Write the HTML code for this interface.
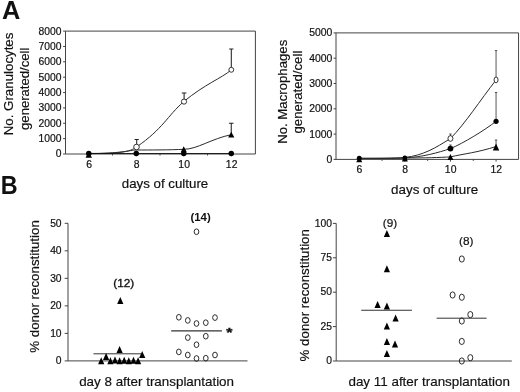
<!DOCTYPE html>
<html><head><meta charset="utf-8"><title>Figure</title>
<style>
html,body{margin:0;padding:0;background:#fff;}
body{width:520px;height:392px;overflow:hidden;font-family:"Liberation Sans",sans-serif;}
svg{display:block;will-change:transform;}
</style></head><body>
<svg width="520" height="392" viewBox="0 0 520 392" font-family="'Liberation Sans', sans-serif" fill="#111">
<text x="1.9" y="18.9" font-size="25.3" text-anchor="start" font-weight="bold">A</text>
<text transform="translate(0.7 193.9) scale(0.925 1)" font-size="25.3" font-weight="bold">B</text>
<path d="M65.5 31.1H255.4V154.0H65.5Z" stroke="#444" stroke-width="1" fill="none"/>
<path d="M63.10 154.00L65.50 154.00" stroke="#444" stroke-width="1" fill="none"/>
<text x="61.4" y="157.4" font-size="10.3" text-anchor="end" stroke="#111" stroke-width="0.2">0</text>
<path d="M63.10 138.64L65.50 138.64" stroke="#444" stroke-width="1" fill="none"/>
<text x="61.4" y="142.04" font-size="10.3" text-anchor="end" stroke="#111" stroke-width="0.2">1000</text>
<path d="M63.10 123.28L65.50 123.28" stroke="#444" stroke-width="1" fill="none"/>
<text x="61.4" y="126.68" font-size="10.3" text-anchor="end" stroke="#111" stroke-width="0.2">2000</text>
<path d="M63.10 107.91L65.50 107.91" stroke="#444" stroke-width="1" fill="none"/>
<text x="61.4" y="111.31" font-size="10.3" text-anchor="end" stroke="#111" stroke-width="0.2">3000</text>
<path d="M63.10 92.55L65.50 92.55" stroke="#444" stroke-width="1" fill="none"/>
<text x="61.4" y="95.95" font-size="10.3" text-anchor="end" stroke="#111" stroke-width="0.2">4000</text>
<path d="M63.10 77.19L65.50 77.19" stroke="#444" stroke-width="1" fill="none"/>
<text x="61.4" y="80.59" font-size="10.3" text-anchor="end" stroke="#111" stroke-width="0.2">5000</text>
<path d="M63.10 61.83L65.50 61.83" stroke="#444" stroke-width="1" fill="none"/>
<text x="61.4" y="65.23" font-size="10.3" text-anchor="end" stroke="#111" stroke-width="0.2">6000</text>
<path d="M63.10 46.46L65.50 46.46" stroke="#444" stroke-width="1" fill="none"/>
<text x="61.4" y="49.86" font-size="10.3" text-anchor="end" stroke="#111" stroke-width="0.2">7000</text>
<path d="M63.10 31.10L65.50 31.10" stroke="#444" stroke-width="1" fill="none"/>
<text x="61.4" y="34.5" font-size="10.3" text-anchor="end" stroke="#111" stroke-width="0.2">8000</text>
<path d="M88.75 154.00L88.75 156.20" stroke="#444" stroke-width="1" fill="none"/>
<text x="89.15" y="167.6" font-size="10.4" text-anchor="middle" stroke="#111" stroke-width="0.2">6</text>
<path d="M136.25 154.00L136.25 156.20" stroke="#444" stroke-width="1" fill="none"/>
<text x="136.65" y="167.6" font-size="10.4" text-anchor="middle" stroke="#111" stroke-width="0.2">8</text>
<path d="M183.75 154.00L183.75 156.20" stroke="#444" stroke-width="1" fill="none"/>
<text x="184.15" y="167.6" font-size="10.4" text-anchor="middle" stroke="#111" stroke-width="0.2">10</text>
<path d="M231.25 154.00L231.25 156.20" stroke="#444" stroke-width="1" fill="none"/>
<text x="231.65" y="167.6" font-size="10.4" text-anchor="middle" stroke="#111" stroke-width="0.2">12</text>
<path d="M112.50 154.00L112.50 155.50" stroke="#444" stroke-width="1" fill="none"/>
<path d="M160.00 154.00L160.00 155.50" stroke="#444" stroke-width="1" fill="none"/>
<path d="M207.50 154.00L207.50 155.50" stroke="#444" stroke-width="1" fill="none"/>
<text x="165" y="188.3" font-size="13.3" text-anchor="middle" stroke="#111" stroke-width="0.18">days of culture</text>
<text x="13" y="83.95" font-size="13.3" text-anchor="middle" stroke="#111" stroke-width="0.18" transform="rotate(-90 13 83.95)">No. Granulocytes</text>
<text x="29.2" y="88.8" font-size="13.1" text-anchor="middle" stroke="#111" stroke-width="0.18" transform="rotate(-90 29.2 88.8)">generated/cell</text>
<path d="M88.75 153.4 C120 153.6 130 152 136.50 147.0 C163.3 128.5 166.9 116.4 183.85 101.5 C205.1 84.0 221.4 78.3 231.30 69.9" stroke="#2a2a2a" stroke-width="1" fill="none"/>
<path d="M88.75 153.6 C120 153.6 130 150.2 136.25 150 C150 150 170 150 183.75 149.3 C197.2 149.3 211.6 138.6 231.25 134.7" stroke="#2a2a2a" stroke-width="1" fill="none"/>
<path d="M88.75 153.50L231.25 153.50" stroke="#111" stroke-width="0.9" fill="none"/>
<path d="M136.70 147.00V139.50M134.60 139.50H138.80" stroke="#222" stroke-width="1.05" fill="none"/>
<path d="M184.10 101.25V93.00M181.80 93.00H186.40" stroke="#222" stroke-width="1.05" fill="none"/>
<path d="M231.30 70.00V49.00M229.20 49.00H233.40" stroke="#222" stroke-width="1.05" fill="none"/>
<path d="M231.25 134.00V123.30M228.95 123.30H233.55" stroke="#222" stroke-width="1.05" fill="none"/>
<path d="M85.55 157.70L91.95 157.70L88.75 151.30Z" fill="#000"/>
<path d="M180.75 152.30L186.75 152.30L183.75 146.30Z" fill="#000"/>
<path d="M228.15 137.60L234.35 137.60L231.25 131.80Z" fill="#000"/>
<circle cx="88.75" cy="153.40" r="2.75" fill="#000"/>
<circle cx="136.25" cy="153.40" r="2.75" fill="#000"/>
<circle cx="183.75" cy="153.40" r="2.75" fill="#000"/>
<circle cx="231.25" cy="153.40" r="2.75" fill="#000"/>
<ellipse cx="136.50" cy="147.00" rx="2.8" ry="2.8" fill="#fff" stroke="#222" stroke-width="0.9"/>
<ellipse cx="184.00" cy="101.60" rx="2.6" ry="2.6" fill="#fff" stroke="#222" stroke-width="0.9"/>
<ellipse cx="231.30" cy="69.80" rx="2.45" ry="2.45" fill="#fff" stroke="#222" stroke-width="0.9"/>
<path d="M336.0 32.9H518.55V159.4H336.0Z" stroke="#444" stroke-width="1" fill="none"/>
<path d="M333.60 159.40L336.00 159.40" stroke="#444" stroke-width="1" fill="none"/>
<text x="332.3" y="162.8" font-size="10.4" text-anchor="end" stroke="#111" stroke-width="0.2">0</text>
<path d="M333.60 134.10L336.00 134.10" stroke="#444" stroke-width="1" fill="none"/>
<text x="332.3" y="137.5" font-size="10.4" text-anchor="end" stroke="#111" stroke-width="0.2">1000</text>
<path d="M333.60 108.80L336.00 108.80" stroke="#444" stroke-width="1" fill="none"/>
<text x="332.3" y="112.2" font-size="10.4" text-anchor="end" stroke="#111" stroke-width="0.2">2000</text>
<path d="M333.60 83.50L336.00 83.50" stroke="#444" stroke-width="1" fill="none"/>
<text x="332.3" y="86.9" font-size="10.4" text-anchor="end" stroke="#111" stroke-width="0.2">3000</text>
<path d="M333.60 58.20L336.00 58.20" stroke="#444" stroke-width="1" fill="none"/>
<text x="332.3" y="61.6" font-size="10.4" text-anchor="end" stroke="#111" stroke-width="0.2">4000</text>
<path d="M333.60 32.90L336.00 32.90" stroke="#444" stroke-width="1" fill="none"/>
<text x="332.3" y="36.3" font-size="10.4" text-anchor="end" stroke="#111" stroke-width="0.2">5000</text>
<path d="M359.25 159.40L359.25 161.60" stroke="#444" stroke-width="1" fill="none"/>
<text x="359.45" y="172.8" font-size="10.4" text-anchor="middle" stroke="#111" stroke-width="0.2">6</text>
<path d="M404.85 159.40L404.85 161.60" stroke="#444" stroke-width="1" fill="none"/>
<text x="405.05" y="172.8" font-size="10.4" text-anchor="middle" stroke="#111" stroke-width="0.2">8</text>
<path d="M450.45 159.40L450.45 161.60" stroke="#444" stroke-width="1" fill="none"/>
<text x="450.65" y="172.8" font-size="10.4" text-anchor="middle" stroke="#111" stroke-width="0.2">10</text>
<path d="M496.05 159.40L496.05 161.60" stroke="#444" stroke-width="1" fill="none"/>
<text x="496.25" y="172.8" font-size="10.4" text-anchor="middle" stroke="#111" stroke-width="0.2">12</text>
<path d="M382.05 159.40L382.05 160.90" stroke="#444" stroke-width="1" fill="none"/>
<path d="M427.65 159.40L427.65 160.90" stroke="#444" stroke-width="1" fill="none"/>
<path d="M473.25 159.40L473.25 160.90" stroke="#444" stroke-width="1" fill="none"/>
<text x="434.6" y="193.7" font-size="13.4" text-anchor="middle" stroke="#111" stroke-width="0.18">days of culture</text>
<text x="286.8" y="91.8" font-size="13.2" text-anchor="middle" stroke="#111" stroke-width="0.18" transform="rotate(-90 286.8 91.8)">No. Macrophages</text>
<text x="302.3" y="92.1" font-size="13.2" text-anchor="middle" stroke="#111" stroke-width="0.18" transform="rotate(-90 302.3 92.1)">generated/cell</text>
<path d="M359.25 158.3 C385 158.3 398 158.3 404.85 157.4 C423 155.6 435.5 147.9 450.45 138.5 C465 123.9 480.4 99.9 496.05 80.0" stroke="#2a2a2a" stroke-width="1" fill="none"/>
<path d="M359.25 158.3 C385 158.4 398 158.4 404.85 157.9 C423 157 438 152.6 450.45 148.6 C463.4 143.2 484.7 130.2 496.05 121.3" stroke="#2a2a2a" stroke-width="1" fill="none"/>
<path d="M359.25 158.5 C380 158.5 395 158.3 404.85 158 C425 158 440 157.5 450.45 156.9 C464.8 153.6 477 152.6 496.05 146.5" stroke="#2a2a2a" stroke-width="1" fill="none"/>
<path d="M496.05 79.50V50.60M494.85 50.60H497.25" stroke="#3a3a3a" stroke-width="0.85" fill="none"/>
<path d="M496.05 121.20V92.50M494.85 92.50H497.25" stroke="#3a3a3a" stroke-width="0.85" fill="none"/>
<path d="M496.05 147.00V140.00M494.85 140.00H497.25" stroke="#3a3a3a" stroke-width="0.85" fill="none"/>
<path d="M450.45 138.20V134.00M449.25 134.00H451.65" stroke="#3a3a3a" stroke-width="0.85" fill="none"/>
<path d="M450.45 149.00V145.00M449.25 145.00H451.65" stroke="#3a3a3a" stroke-width="0.85" fill="none"/>
<path d="M356.25 162.20L362.25 162.20L359.25 156.20Z" fill="#000"/>
<path d="M401.85 161.60L407.85 161.60L404.85 155.60Z" fill="#000"/>
<path d="M447.45 160.00L453.45 160.00L450.45 154.00Z" fill="#000"/>
<path d="M492.85 150.60L499.25 150.60L496.05 143.40Z" fill="#000"/>
<circle cx="359.25" cy="158.30" r="2.5" fill="#000"/>
<circle cx="404.85" cy="158.00" r="2.4" fill="#000"/>
<circle cx="450.45" cy="148.60" r="2.9" fill="#000"/>
<circle cx="496.05" cy="121.30" r="2.6" fill="#000"/>
<ellipse cx="450.45" cy="138.50" rx="2.5" ry="2.85" fill="#fff" stroke="#222" stroke-width="0.9"/>
<ellipse cx="496.05" cy="79.90" rx="2.0" ry="2.9" fill="#fff" stroke="#222" stroke-width="0.9"/>
<path d="M68.0 223.3V360.9H247.5" stroke="#444" stroke-width="1" fill="none"/>
<path d="M64.70 360.90L68.00 360.90" stroke="#444" stroke-width="1" fill="none"/>
<text x="61.6" y="364.1" font-size="10.3" text-anchor="end" stroke="#111" stroke-width="0.2">0</text>
<path d="M64.70 333.38L68.00 333.38" stroke="#444" stroke-width="1" fill="none"/>
<text x="61.6" y="336.58" font-size="10.3" text-anchor="end" stroke="#111" stroke-width="0.2">10</text>
<path d="M64.70 305.86L68.00 305.86" stroke="#444" stroke-width="1" fill="none"/>
<text x="61.6" y="309.06" font-size="10.3" text-anchor="end" stroke="#111" stroke-width="0.2">20</text>
<path d="M64.70 278.34L68.00 278.34" stroke="#444" stroke-width="1" fill="none"/>
<text x="61.6" y="281.54" font-size="10.3" text-anchor="end" stroke="#111" stroke-width="0.2">30</text>
<path d="M64.70 250.82L68.00 250.82" stroke="#444" stroke-width="1" fill="none"/>
<text x="61.6" y="254.02" font-size="10.3" text-anchor="end" stroke="#111" stroke-width="0.2">40</text>
<path d="M64.70 223.30L68.00 223.30" stroke="#444" stroke-width="1" fill="none"/>
<text x="61.6" y="226.5" font-size="10.3" text-anchor="end" stroke="#111" stroke-width="0.2">50</text>
<text x="38.6" y="352.8" font-size="13.33" text-anchor="start" stroke="#111" stroke-width="0.18" transform="rotate(-90 38.6 352.8)">% donor reconstitution</text>
<text x="156.6" y="386.4" font-size="13.4" text-anchor="middle" stroke="#111" stroke-width="0.18">day 8 after transplantation</text>
<path d="M93.50 353.80L141.40 353.80" stroke="#333" stroke-width="1" fill="none"/>
<path d="M98.10 364.30L104.30 364.30L101.20 357.30Z" fill="#000"/>
<path d="M103.00 360.10L109.20 360.10L106.10 353.10Z" fill="#000"/>
<path d="M107.30 364.30L113.50 364.30L110.40 357.30Z" fill="#000"/>
<path d="M111.90 363.50L118.10 363.50L115.00 356.50Z" fill="#000"/>
<path d="M116.50 364.30L122.70 364.30L119.60 357.30Z" fill="#000"/>
<path d="M121.10 363.70L127.30 363.70L124.20 356.70Z" fill="#000"/>
<path d="M125.70 364.30L131.90 364.30L128.80 357.30Z" fill="#000"/>
<path d="M130.40 363.70L136.60 363.70L133.50 356.70Z" fill="#000"/>
<path d="M135.00 364.30L141.20 364.30L138.10 357.30Z" fill="#000"/>
<path d="M139.10 358.10L145.30 358.10L142.20 351.10Z" fill="#000"/>
<path d="M116.50 353.10L122.70 353.10L119.60 346.10Z" fill="#000"/>
<path d="M117.20 304.10L123.40 304.10L120.30 297.10Z" fill="#000"/>
<text x="123.8" y="287.0" font-size="11.8" text-anchor="middle" stroke="#111" stroke-width="0.35">(12)</text>
<text x="200.6" y="220.8" font-size="11.4" text-anchor="middle" font-weight="bold">(14)</text>
<path d="M171.20 330.85L221.90 330.85" stroke="#333" stroke-width="1.1" fill="none"/>
<ellipse cx="196.50" cy="231.75" rx="2.35" ry="2.85" fill="none" stroke="#222" stroke-width="0.95"/>
<ellipse cx="178.85" cy="317.30" rx="2.35" ry="2.85" fill="none" stroke="#222" stroke-width="0.95"/>
<ellipse cx="187.80" cy="320.40" rx="2.35" ry="2.85" fill="none" stroke="#222" stroke-width="0.95"/>
<ellipse cx="196.50" cy="323.50" rx="2.35" ry="2.85" fill="none" stroke="#222" stroke-width="0.95"/>
<ellipse cx="205.80" cy="322.70" rx="2.35" ry="2.85" fill="none" stroke="#222" stroke-width="0.95"/>
<ellipse cx="215.00" cy="317.60" rx="2.35" ry="2.85" fill="none" stroke="#222" stroke-width="0.95"/>
<ellipse cx="187.80" cy="337.60" rx="2.35" ry="2.85" fill="none" stroke="#222" stroke-width="0.95"/>
<ellipse cx="205.80" cy="336.20" rx="2.35" ry="2.85" fill="none" stroke="#222" stroke-width="0.95"/>
<ellipse cx="196.50" cy="344.70" rx="2.35" ry="2.85" fill="none" stroke="#222" stroke-width="0.95"/>
<ellipse cx="178.85" cy="351.90" rx="2.35" ry="2.85" fill="none" stroke="#222" stroke-width="0.95"/>
<ellipse cx="187.80" cy="355.00" rx="2.35" ry="2.85" fill="none" stroke="#222" stroke-width="0.95"/>
<ellipse cx="196.50" cy="358.50" rx="2.35" ry="2.85" fill="none" stroke="#222" stroke-width="0.95"/>
<ellipse cx="205.80" cy="358.20" rx="2.35" ry="2.85" fill="none" stroke="#222" stroke-width="0.95"/>
<ellipse cx="215.00" cy="355.00" rx="2.35" ry="2.85" fill="none" stroke="#222" stroke-width="0.95"/>
<text transform="translate(229.3 336.8) scale(1.18 1)" font-size="13.5" font-weight="bold" text-anchor="middle" stroke="#111" stroke-width="0.35">*</text>
<path d="M336.2 223.4V361.0H511.8" stroke="#444" stroke-width="1" fill="none"/>
<path d="M332.90 361.00L336.20 361.00" stroke="#444" stroke-width="1" fill="none"/>
<text x="332.0" y="364.2" font-size="10.3" text-anchor="end" stroke="#111" stroke-width="0.2">0</text>
<path d="M332.90 326.60L336.20 326.60" stroke="#444" stroke-width="1" fill="none"/>
<text x="332.0" y="329.8" font-size="10.3" text-anchor="end" stroke="#111" stroke-width="0.2">25</text>
<path d="M332.90 292.20L336.20 292.20" stroke="#444" stroke-width="1" fill="none"/>
<text x="332.0" y="295.4" font-size="10.3" text-anchor="end" stroke="#111" stroke-width="0.2">50</text>
<path d="M332.90 257.80L336.20 257.80" stroke="#444" stroke-width="1" fill="none"/>
<text x="332.0" y="261.0" font-size="10.3" text-anchor="end" stroke="#111" stroke-width="0.2">75</text>
<path d="M332.90 223.40L336.20 223.40" stroke="#444" stroke-width="1" fill="none"/>
<text x="332.0" y="226.6" font-size="10.3" text-anchor="end" stroke="#111" stroke-width="0.2">100</text>
<text x="309.0" y="361.4" font-size="13.3" text-anchor="start" stroke="#111" stroke-width="0.18" transform="rotate(-90 309.0 361.4)">% donor reconstitution</text>
<text x="429.2" y="386.4" font-size="13.42" text-anchor="middle" stroke="#111" stroke-width="0.18">day 11 after transplantation</text>
<path d="M361.25 310.25L411.90 310.25" stroke="#333" stroke-width="1" fill="none"/>
<path d="M383.80 237.00L390.00 237.00L386.90 230.00Z" fill="#000"/>
<path d="M383.80 272.30L390.00 272.30L386.90 265.30Z" fill="#000"/>
<path d="M374.50 307.90L380.70 307.90L377.60 300.90Z" fill="#000"/>
<path d="M383.80 309.60L390.00 309.60L386.90 302.60Z" fill="#000"/>
<path d="M392.50 321.60L398.70 321.60L395.60 314.60Z" fill="#000"/>
<path d="M383.80 329.50L390.00 329.50L386.90 322.50Z" fill="#000"/>
<path d="M383.80 344.90L390.00 344.90L386.90 337.90Z" fill="#000"/>
<path d="M391.90 347.50L398.10 347.50L395.00 340.50Z" fill="#000"/>
<path d="M383.80 357.00L390.00 357.00L386.90 350.00Z" fill="#000"/>
<path d="M436.60 318.20L486.60 318.20" stroke="#333" stroke-width="1" fill="none"/>
<ellipse cx="461.80" cy="259.00" rx="2.5" ry="3.1" fill="none" stroke="#222" stroke-width="0.95"/>
<ellipse cx="452.60" cy="295.00" rx="2.5" ry="3.1" fill="none" stroke="#222" stroke-width="0.95"/>
<ellipse cx="461.80" cy="297.25" rx="2.5" ry="3.1" fill="none" stroke="#222" stroke-width="0.95"/>
<ellipse cx="470.30" cy="314.60" rx="2.5" ry="3.1" fill="none" stroke="#222" stroke-width="0.95"/>
<ellipse cx="461.80" cy="321.00" rx="2.5" ry="3.1" fill="none" stroke="#222" stroke-width="0.95"/>
<ellipse cx="461.80" cy="341.40" rx="2.5" ry="3.1" fill="none" stroke="#222" stroke-width="0.95"/>
<ellipse cx="470.30" cy="357.70" rx="2.5" ry="3.1" fill="none" stroke="#222" stroke-width="0.95"/>
<ellipse cx="461.80" cy="361.00" rx="2.5" ry="3.1" fill="none" stroke="#222" stroke-width="0.95"/>
<text x="390" y="226.8" font-size="11.8" text-anchor="middle" stroke="#111" stroke-width="0.2">(9)</text>
<text x="466.2" y="244.8" font-size="11.8" text-anchor="middle" stroke="#111" stroke-width="0.2">(8)</text>
</svg>
</body></html>
